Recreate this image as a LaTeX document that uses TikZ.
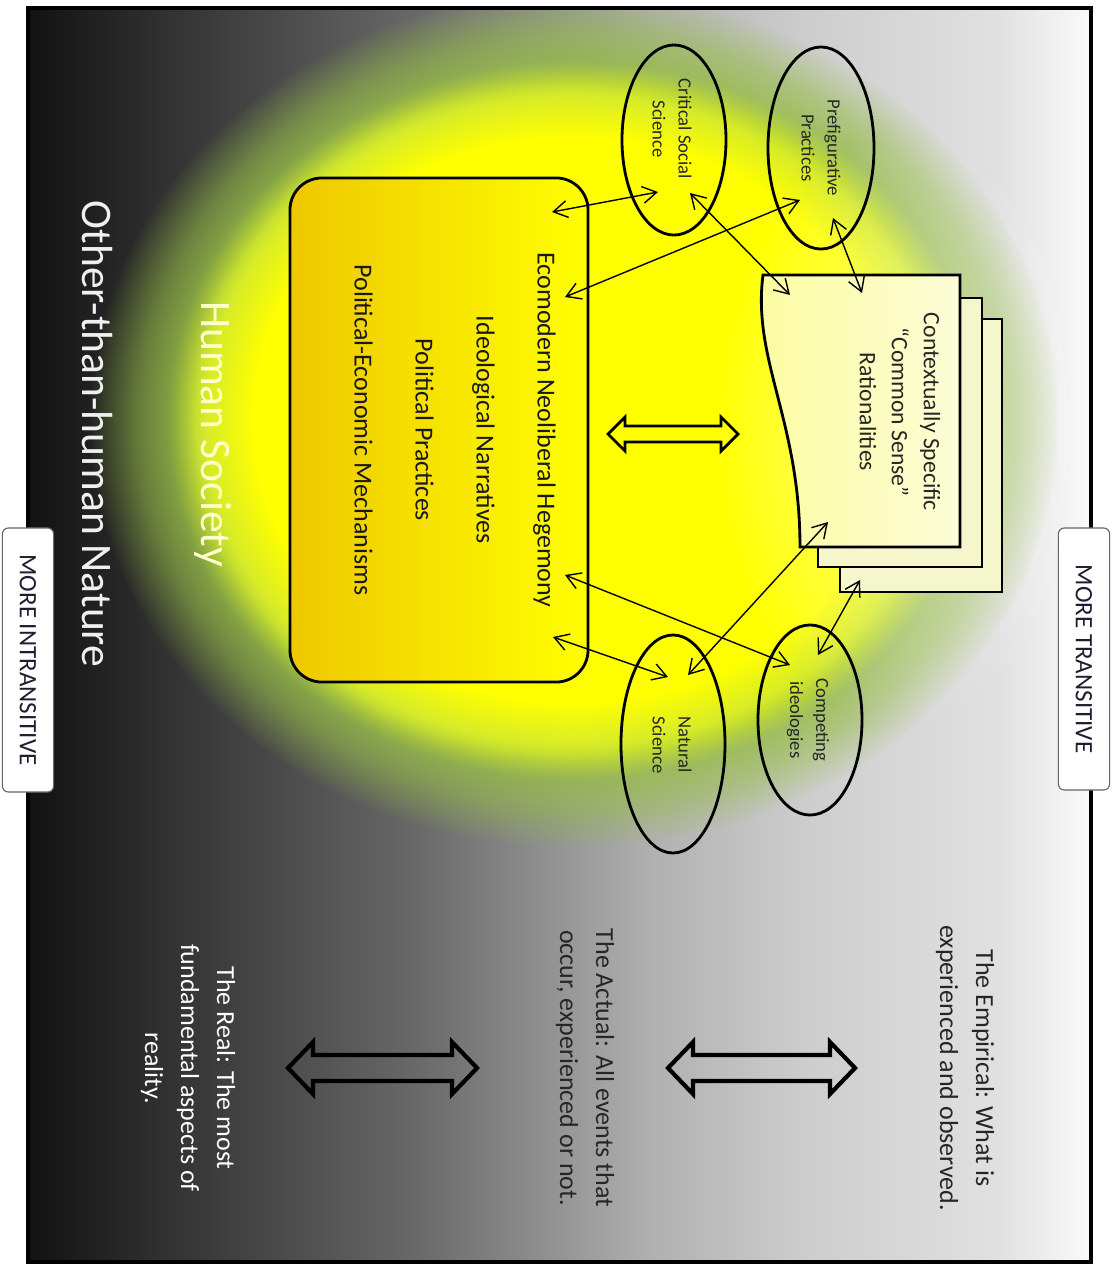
\documentclass[tikz,border=0pt]{standalone}
\usepackage{fontspec}
\setmainfont{Carlito}
\usetikzlibrary{shapes.geometric,arrows.meta,fadings}
\definecolor{bg0}{RGB}{18,18,18}
\definecolor{bg1}{RGB}{42,42,42}
\definecolor{bg2}{RGB}{106,106,106}
\definecolor{bg3}{RGB}{176,176,176}
\definecolor{bg4}{RGB}{205,205,205}
\definecolor{bg5}{RGB}{224,224,224}
\definecolor{bg6}{RGB}{250,250,250}
\definecolor{glowgreen}{RGB}{150,188,70}
\definecolor{glowyel}{RGB}{215,235,40}
\definecolor{boxgold}{RGB}{238,200,0}
\definecolor{docyel}{RGB}{252,252,160}
\definecolor{docpale}{RGB}{252,252,215}
\definecolor{backpage}{RGB}{246,246,205}
\definecolor{tagtext}{RGB}{30,30,50}
\definecolor{socyel}{RGB}{255,255,200}
\pgfdeclarehorizontalshading{bgshade}{100bp}{color(0bp)=(bg0); color(25bp)=(bg0); color(30bp)=(bg1); color(43.5bp)=(bg2); color(54.25bp)=(bg3); color(61.5bp)=(bg4); color(70.5bp)=(bg5); color(75bp)=(bg6); color(100bp)=(bg6)}
\pgfdeclareradialshading{glowshade}{\pgfpoint{0bp}{0bp}}{color(0bp)=(yellow); color(16.5bp)=(yellow); color(19bp)=(glowyel); color(21bp)=(glowgreen); color(25bp)=(glowgreen); color(50bp)=(glowgreen)}
\pgfdeclareradialshading{glowfadeshade}{\pgfpointorigin}{color(0bp)=(pgftransparent!0); color(19.5bp)=(pgftransparent!0); color(22.5bp)=(pgftransparent!45); color(25bp)=(pgftransparent!100); color(50bp)=(pgftransparent!100)}
\pgfdeclarefading{glowfade}{\pgfuseshading{glowfadeshade}}
\pgfdeclareradialshading{softfadeshade}{\pgfpointorigin}{color(0bp)=(pgftransparent!0); color(8bp)=(pgftransparent!15); color(25bp)=(pgftransparent!100); color(50bp)=(pgftransparent!100)}
\pgfdeclarefading{softfade}{\pgfuseshading{softfadeshade}}
\begin{document}
\begin{tikzpicture}[x=0.025cm,y=-0.025cm,
  oval/.style={ellipse, draw=black, line width=2pt, inner sep=0pt},
  ovaltext/.style={rotate=-90, align=center, inner sep=0pt, font=\fontsize{13.3}{18.5}\selectfont, text=black!85},
  conn/.style={line width=1pt, {Straight Barb[length=3.5mm,width=4.2mm]}-{Straight Barb[length=3.5mm,width=4.2mm]}},
  hollow/.style={draw=black, line width=3pt, line join=miter},
  levtext/.style={rotate=-90, align=center, inner sep=0pt, font=\fontsize{18.5}{25.6}\selectfont},
  tag/.style={draw=black!60, fill=white, rounded corners=0.15cm, rotate=-90, minimum height=1.28cm, inner sep=0pt, font=\fontsize{17.8}{20}\selectfont, text=tagtext, line width=0.8pt},
  bigtext/.style={rotate=-90, inner sep=0pt, font=\fontsize{31}{36}\selectfont},
  page/.style={draw=black, line width=2pt, line join=miter}]
\useasboundingbox (0,0) rectangle (1112,1265);
\fill[white] (0,0) rectangle (1112,1265);
% background
\shade[shading=bgshade] (28,8) rectangle (1091,1262);
% glow
\begin{scope}
\clip (28,8) rectangle (1091,1262);
\shade[shading=glowshade, path fading=glowfade] (575,420) ellipse [x radius=485, y radius=428];
\fill[white, fill opacity=0.45, path fading=softfade] (905,430) ellipse [x radius=190, y radius=300];
\end{scope}
\draw[line width=2.2pt] (28,8) rectangle (1091,1262);
% hegemony box
\node[draw=black, line width=2pt, rounded corners=0.8cm, left color=boxgold, right color=yellow, minimum width=7.45cm, minimum height=12.6cm, inner sep=0pt] (hegbox) at (439,430) {};
\node[rotate=-90, align=center, inner sep=0pt, text=black!90, font=\fontsize{18.5}{43.4}\selectfont] (hegtext) at (455,430)
  {Ecomodern Neoliberal Hegemony\\Ideological Narratives\\Political Practices\\Political-Economic Mechanisms};
% document stack
\draw[page, fill=backpage] (840,319) rectangle (1002,592);
\draw[page, fill=backpage] (818,298) rectangle (982,567);
\shade[left color=docyel, right color=docpale] (763,275) -- (960,275) -- (960,547) -- (800,547) .. controls (800,420) and (752,360) .. (763,275) -- cycle;
\draw[page] (763,275) -- (960,275) -- (960,547) -- (800,547) .. controls (800,420) and (752,360) .. (763,275) -- cycle;
\node[rotate=-90, align=center, inner sep=0pt, text=black!85, font=\fontsize{16.8}{22.8}\selectfont] (ctx) at (900,412)
  {Contextually Specific\\“Common Sense”\\Rationalities};
% ellipses
\node[oval, minimum width=2.6cm, minimum height=4.75cm] (css) at (674,140) {};
\node[oval, minimum width=2.65cm, minimum height=5.05cm] (pref) at (821,148) {};
\node[oval, minimum width=2.6cm, minimum height=5.45cm] (nat) at (673,744) {};
\node[oval, minimum width=2.6cm, minimum height=4.75cm] (comp) at (810,720) {};
\node[ovaltext] (csst) at (672,129) {Critical Social\\Science};
\node[ovaltext] (preft) at (821,148) {Prefigurative\\Practices};
\node[ovaltext] (natt) at (672,745) {Natural\\Science};
\node[ovaltext] (compt) at (808,720) {Competing\\ideologies};
% connectors
\coordinate (c1a) at (552,212); \coordinate (c1b) at (658,192);
\coordinate (c2a) at (565,297); \coordinate (c2b) at (800,200);
\coordinate (c3a) at (690,193); \coordinate (c3b) at (790,295);
\coordinate (c4a) at (833,218); \coordinate (c4b) at (862,293);
\coordinate (c5a) at (565,575); \coordinate (c5b) at (790,665);
\coordinate (c6a) at (553,637); \coordinate (c6b) at (668,677);
\coordinate (c7a) at (828,522); \coordinate (c7b) at (688,675);
\coordinate (c8a) at (860,580); \coordinate (c8b) at (818,655);
\foreach \p in {1,...,8} { \draw[conn] (c\p a) -- (c\p b); }
% hollow double arrows
\draw[draw=black, line width=2pt, line join=miter] (608,434) -- (625,417) -- (625,426) -- (721,426) -- (721,417) -- (738,434) -- (721,451) -- (721,442) -- (625,442) -- (625,451) -- cycle;
\draw[hollow] (668,1068) -- (693,1042) -- (693,1055) -- (830,1055) -- (830,1042) -- (855,1068) -- (830,1094) -- (830,1081) -- (693,1081) -- (693,1094) -- cycle;
\draw[hollow] (288,1068) -- (313,1042) -- (313,1055) -- (452,1055) -- (452,1042) -- (477,1068) -- (452,1094) -- (452,1081) -- (313,1081) -- (313,1094) -- cycle;
% level texts
\node[levtext, text=black!85] (emp) at (965,1068) {The Empirical: What is\\experienced and observed.};
\node[levtext, text=black!85] (act) at (585,1068) {The Actual: All events that\\occur, experienced or not.};
\node[levtext, text=white] (real) at (188,1068) {The Real: The most\\fundamental aspects of\\reality.};
% big labels
\node[bigtext, text=white!94!black] (nature) at (97,434) {Other-than-human Nature};
\node[bigtext, text=socyel] (society) at (213,434) {Human Society};
% tags
\node[tag, minimum width=6.55cm] (ttag) at (1084,659) {MORE TRANSITIVE};
\node[tag, minimum width=6.6cm] (itag) at (28,660) {MORE INTRANSITIVE};
\end{tikzpicture}
\end{document}
